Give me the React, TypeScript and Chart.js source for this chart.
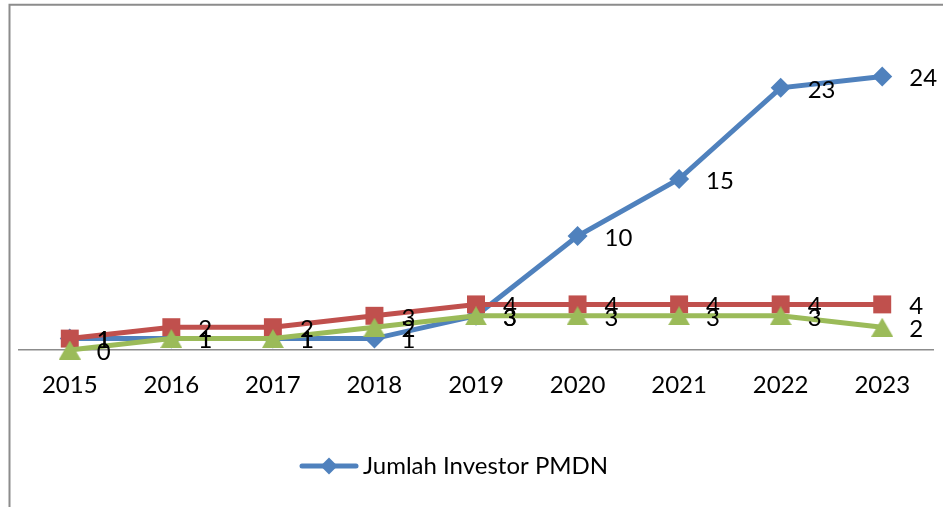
import React, { useEffect, useRef } from 'react';
import { Chart, registerables } from 'chart.js';

Chart.register(...registerables);

const categories = ['2015', '2016', '2017', '2018', '2019', '2020', '2021', '2022', '2023'];
const investorPMDN = [1, 1, 1, 1, 3, 10, 15, 23, 24];
const seriesRed = [1, 2, 2, 3, 4, 4, 4, 4, 4];
const seriesGreen = [0, 1, 1, 2, 3, 3, 3, 3, 2];
const legendLabel = 'Jumlah Investor PMDN';
const yMin = 0;
const yMax = 30;

const BLUE = '#4F81BD';
const RED = '#C0504D';
const GREEN = '#9BBB59';
const FONT = 'Lato, "Open Sans", sans-serif';
const FONT_SIZE = 24;

function makeTriangle(color: string) {
  const c = document.createElement('canvas');
  c.width = 22;
  c.height = 19;
  const g = c.getContext('2d')!;
  g.fillStyle = color;
  g.beginPath();
  g.moveTo(11, 0);
  g.lineTo(22, 19);
  g.lineTo(0, 19);
  g.closePath();
  g.fill();
  return c;
}

const framePlugin = {
  id: 'frame',
  beforeDraw(chart: any) {
    const ctx = chart.ctx;
    ctx.save();
    ctx.fillStyle = '#ffffff';
    ctx.fillRect(0, 0, chart.width, chart.height);
    ctx.strokeStyle = '#8c8c8c';
    ctx.lineWidth = 2;
    ctx.beginPath();
    ctx.moveTo(9.5, chart.height);
    ctx.lineTo(9.5, 4.8);
    ctx.lineTo(chart.width, 4.8);
    ctx.stroke();
    ctx.restore();
  },
};

const labelPlugin = {
  id: 'pointLabels',
  afterDatasetsDraw(chart: any) {
    const ctx = chart.ctx;
    ctx.save();
    ctx.font = `${FONT_SIZE}px ${FONT}`;
    ctx.fillStyle = '#000000';
    ctx.textAlign = 'left';
    ctx.textBaseline = 'middle';
    chart.data.datasets.forEach((ds: any, i: number) => {
      const meta = chart.getDatasetMeta(i);
      meta.data.forEach((el: any, j: number) => {
        ctx.fillText(String(ds.data[j]), el.x + 27, el.y + 2);
      });
    });
    ctx.restore();
  },
  afterDraw(chart: any) {
    const ctx = chart.ctx;
    ctx.save();
    const y = 466;
    ctx.strokeStyle = BLUE;
    ctx.lineWidth = 5;
    ctx.lineCap = 'round';
    ctx.beginPath();
    ctx.moveTo(302, y);
    ctx.lineTo(356, y);
    ctx.stroke();
    ctx.fillStyle = BLUE;
    ctx.beginPath();
    ctx.moveTo(329, y - 8.5);
    ctx.lineTo(337.5, y);
    ctx.lineTo(329, y + 8.5);
    ctx.lineTo(320.5, y);
    ctx.closePath();
    ctx.fill();
    ctx.font = `${FONT_SIZE}px ${FONT}`;
    ctx.fillStyle = '#000000';
    ctx.textAlign = 'left';
    ctx.textBaseline = 'middle';
    ctx.fillText(legendLabel, 363, y);
    ctx.restore();
  },
};

export default function App() {
  const ref = useRef<HTMLCanvasElement | null>(null);

  useEffect(() => {
    if (!ref.current) return;
    const chart = new Chart(ref.current, {
      type: 'line',
      data: {
        labels: categories,
        datasets: [
          {
            label: legendLabel,
            data: investorPMDN,
            borderColor: BLUE,
            backgroundColor: BLUE,
            borderWidth: 5,
            pointStyle: 'rectRot',
            pointRadius: 10,
            pointBorderWidth: 0,
            pointBackgroundColor: BLUE,
            tension: 0,
            clip: false,
            order: 2,
          },
          {
            label: 'Seri 2',
            data: seriesRed,
            borderColor: RED,
            backgroundColor: RED,
            borderWidth: 5,
            pointStyle: 'rect',
            pointRadius: 12.7,
            pointBorderWidth: 0,
            pointBackgroundColor: RED,
            tension: 0,
            clip: false,
            order: 1,
          },
          {
            label: 'Seri 3',
            data: seriesGreen,
            borderColor: GREEN,
            backgroundColor: GREEN,
            borderWidth: 5,
            pointStyle: makeTriangle(GREEN) as any,
            pointRadius: 11,
            pointBorderWidth: 0,
            pointBackgroundColor: GREEN,
            tension: 0,
            clip: false,
            order: 0,
          },
        ],
      },
      options: {
        responsive: false,
        animation: false,
        devicePixelRatio: 1,
        layout: { autoPadding: false, padding: { left: 19, right: 10, top: 8, bottom: 86.2 } },
        plugins: {
          legend: { display: false },
          tooltip: { enabled: false },
          title: { display: false },
        },
        scales: {
          x: {
            type: 'category',
            offset: true,
            grid: { display: false, drawTicks: false },
            border: { display: true, color: '#8c8c8c', width: 1.5 },
            ticks: {
              font: { family: FONT, size: FONT_SIZE },
              color: '#000000',
              padding: 21,
              maxRotation: 0,
              autoSkip: false,
            },
            afterFit: (scale: any) => {
              scale.paddingLeft = 0;
              scale.paddingRight = 0;
            },
          },
          y: {
            display: false,
            min: yMin,
            max: yMax,
          },
        },
      },
      plugins: [framePlugin, labelPlugin],
    });
    return () => chart.destroy();
  }, []);

  return (
    <canvas
      ref={ref}
      width={943}
      height={507}
      style={{ position: 'absolute', left: 0, top: 0, display: 'block' }}
    />
  );
}
